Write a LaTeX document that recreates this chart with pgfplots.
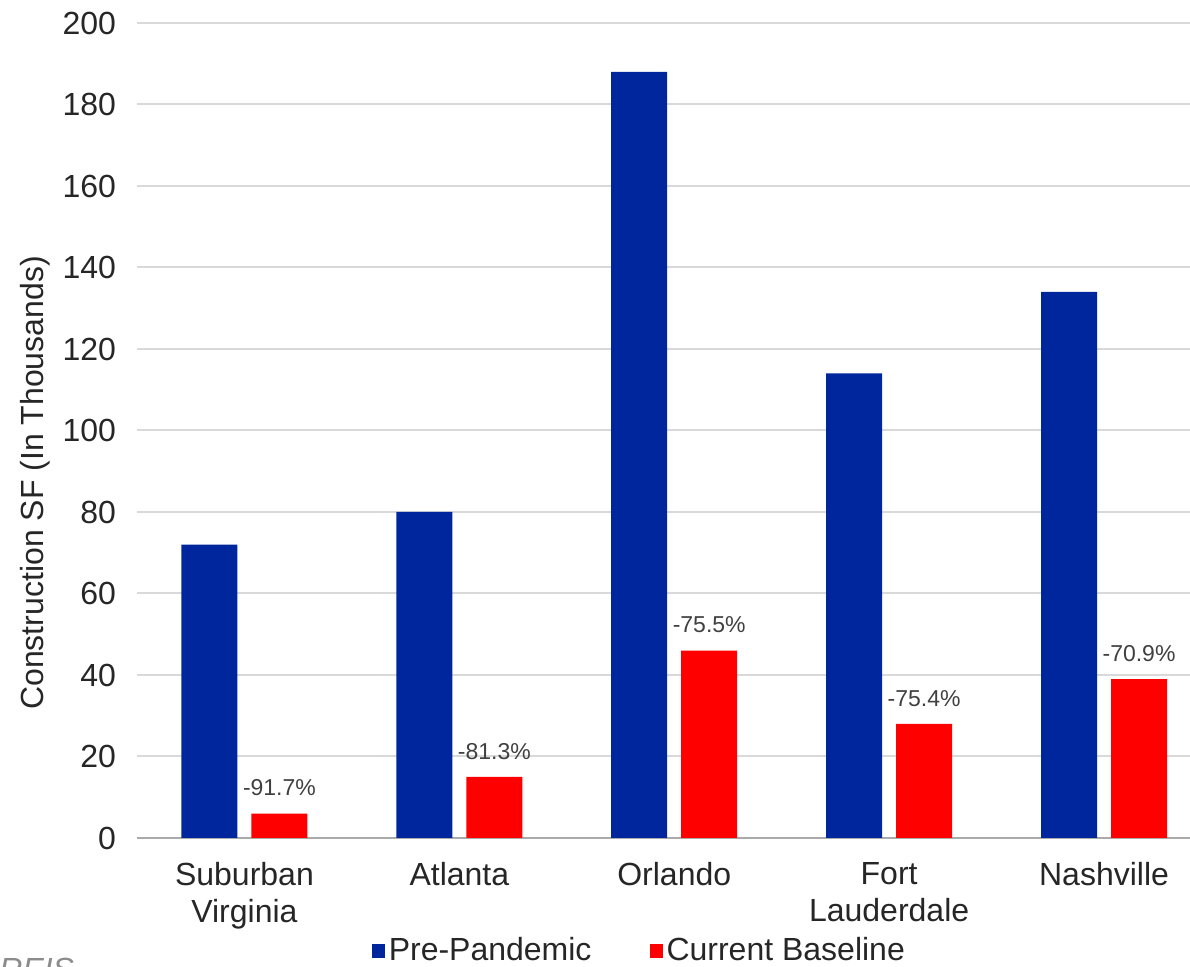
\documentclass[border=0pt]{standalone}
\usepackage{pgfplots}
\pgfplotsset{compat=1.18}
\usepackage{fontspec}
\setmainfont{Liberation Sans}

\definecolor{prepan}{RGB}{0,38,158}
\definecolor{curbase}{RGB}{255,0,0}
\definecolor{txt}{RGB}{38,38,38}
\definecolor{lbl}{RGB}{64,64,64}
\definecolor{gridc}{RGB}{217,217,217}
\definecolor{basec}{RGB}{170,170,170}
\definecolor{srcc}{RGB}{140,140,140}

\begin{document}
\begin{tikzpicture}
\begin{axis}[
  at={(0,0)}, anchor=south west,
  scale only axis, width=526.5pt, height=407.5pt,
  ybar=7pt, bar width=28pt,
  xmin=-0.5, xmax=4.4, ymin=0, ymax=200,
  xtick={0,1,2,3,4},
  xticklabels={{Suburban\\Virginia},Atlanta,Orlando,{Fort\\Lauderdale},Nashville},
  ytick={0,20,...,200},
  major tick length=0pt,
  axis x line*=bottom, axis y line*=left,
  x axis line style={basec, line width=1pt, -},
  y axis line style={draw=none},
  ymajorgrids, grid style={gridc, line width=1pt},
  /pgf/number format/assume math mode=true,
  tick label style={font=\fontsize{16}{18.5}\selectfont, text=txt},
  xticklabel style={align=center, anchor=north, yshift=-8.5pt},
  yticklabel style={anchor=east, xshift=-7pt},
  ylabel={Construction SF (In Thousands)},
  ylabel style={at={(axis description cs:-0.0969,0.4356)}, anchor=center,
    font=\fontsize{16}{19}\selectfont, text=txt},
  legend columns=2,
  legend style={at={(axis description cs:0.478,-0.1385)}, anchor=center,
    draw=none, fill=none, font=\fontsize{16}{19}\selectfont, text=txt,
    /tikz/every even column/.append style={column sep=27pt},
    inner sep=0pt},
  legend cell align=left,
  clip=false,
]
\addplot[fill=prepan, draw=none,
  legend image code/.code={\fill[prepan] (0pt,-3.5pt) rectangle (6.5pt,3.5pt);}]
  coordinates {(0,72) (1,80) (2,188) (3,114) (4,134)};
\addlegendentry{Pre-Pandemic}
\addplot[fill=curbase, draw=none,
  legend image code/.code={\fill[curbase] (0pt,-3.5pt) rectangle (6.5pt,3.5pt);},
  point meta=explicit symbolic,
  nodes near coords,
  every node near coord/.append style={anchor=south, inner sep=0pt, yshift=8.5pt,
    font=\fontsize{11.5}{13}\selectfont, text=lbl}]
  coordinates {(0,6) [-91.7\%] (1,15) [-81.3\%] (2,46) [-75.5\%] (3,28) [-75.4\%] (4,39) [-70.9\%]};
\addlegendentry{Current Baseline}
\end{axis}
% source note in the lower left corner, partly beyond the page edge
\node[anchor=north west, inner sep=0pt, font=\fontsize{16}{19}\selectfont\itshape, text=srcc]
  at (-69pt,-60pt) {REIS};
\pgfresetboundingbox
\path[use as bounding box] (-68.5pt,-64.5pt) rectangle (526.5pt,419pt);
\end{tikzpicture}
\end{document}
